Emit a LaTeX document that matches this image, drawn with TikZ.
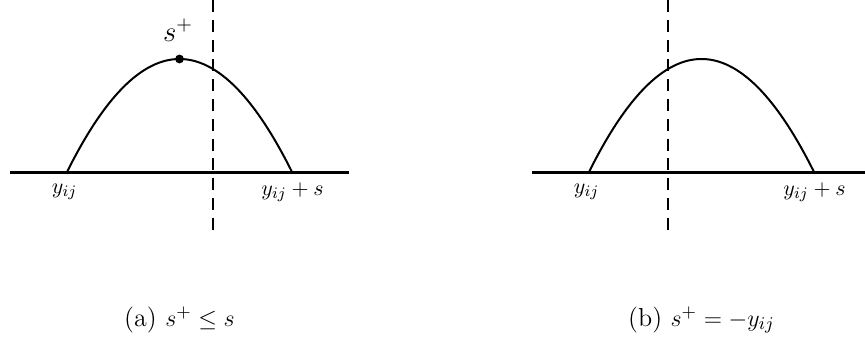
\documentclass[tikz,border=0pt]{standalone}
\begin{document}
\begin{tikzpicture}[x=.5pt, y=.5pt,
  axis/.style={line width=1.5pt},
  curve/.style={line width=1pt},
  cut/.style={line width=1pt, dash pattern=on 6pt off 3.9pt},
  lbl/.style={font=\fontsize{11}{13}\selectfont},
  capt/.style={font=\fontsize{13}{15}\selectfont}]
\useasboundingbox (0,0) rectangle (865,338);

\foreach \c/\d/\n/\t in {179.5/33.5/a/{s^+\le s}, 701.5/-33.5/b/{s^+=-y_{ij}}}
{
    % axis
    \coordinate (left\n) at (\c-169.5,166);
    \coordinate (right\n) at (\c+169.5,166);
    \draw[axis](left\n)--(right\n);
    % dashed cut
    \coordinate (top\n) at (\c+\d,338);
    \coordinate (bot\n) at (\c+\d,108);
    \draw[cut](top\n)--(bot\n);
    % the arc
    \draw[curve, domain=-112.5:112.5, smooth, samples=80]plot({\c+\x}, {166+113*(1-(\x/112.5)^2)});
    \node[lbl] (low\n) at (\c-115,146) {$y_{ij}$};
    \node[lbl] (high\n) at (\c+113,146) {$y_{ij}+s$};
    \node[capt] (cap\n) at (\c,18) {(\n) $\t$};
}
\fill (179.5,279) circle (2.2pt);
\node[font=\Large] (splus) at (178,308) {$s^+$};
\end{tikzpicture}
\end{document}
